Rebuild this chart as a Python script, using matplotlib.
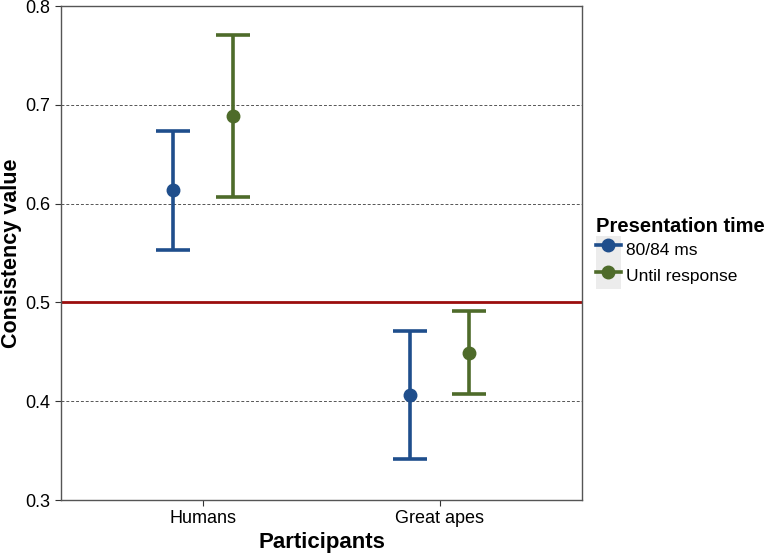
import numpy as np
import matplotlib.pyplot as plt
from matplotlib.lines import Line2D
from matplotlib.patches import Patch
from matplotlib.legend_handler import HandlerTuple

plt.rcParams['font.family'] = ['Liberation Sans', 'DejaVu Sans']

groups = ['Humans', 'Great apes']
conditions = ['80/84 ms', 'Until response']
colors = ['#1f4e8c', '#4e6b2a']
means = {'80/84 ms': [0.614, 0.406], 'Until response': [0.689, 0.449]}
lower = {'80/84 ms': [0.553, 0.342], 'Until response': [0.607, 0.407]}
upper = {'80/84 ms': [0.674, 0.471], 'Until response': [0.771, 0.491]}

fig = plt.figure(figsize=(7.68, 5.53), dpi=100)
ax = fig.add_axes([0.0794, 0.0958, 0.6784, 0.8932])

x = np.arange(1, len(groups) + 1)
offsets = [-0.125, 0.125]
for cond, col, off in zip(conditions, colors, offsets):
    m = np.array(means[cond])
    lo = m - np.array(lower[cond])
    hi = np.array(upper[cond]) - m
    ax.errorbar(x + off, m, yerr=[lo, hi], fmt='o', color=col, ms=9,
                elinewidth=2.6, capsize=12, capthick=2.6, zorder=3)

for y in [0.4, 0.6, 0.7]:
    ax.axhline(y, color='#555555', ls=(0, (3, 2)), lw=0.7, zorder=1)
ax.axhline(0.5, color='#9b0d0d', lw=2, zorder=2)

ax.set_xlim(0.4, 2.6)
ax.set_ylim(0.3, 0.8)
ax.set_xticks(x)
ax.set_xticklabels(groups, fontsize=13)
ax.set_yticks([0.3, 0.4, 0.5, 0.6, 0.7, 0.8])
ax.set_yticklabels(['0.3', '0.4', '0.5', '0.6', '0.7', '0.8'], fontsize=13)
ax.tick_params(colors='#333333', labelcolor='black', length=4)
for s in ax.spines.values():
    s.set_color('#555555')
    s.set_linewidth(1)

ax.set_xlabel('Participants', fontsize=16, fontweight='bold', labelpad=3)
ax.set_ylabel('Consistency value', fontsize=15.5, fontweight='bold')
ax.yaxis.set_label_coords(-0.074, 0.5)

handles = [(Patch(facecolor='#ececec', edgecolor='none'),
            Line2D([], [], color=c, marker='o', lw=2.6, ms=9)) for c in colors]
leg = ax.legend(handles, conditions, title='Presentation time', loc='center left',
                bbox_to_anchor=(1.01, 0.5), frameon=False, fontsize=12.5,
                title_fontproperties={'weight': 'bold', 'size': 14.5},
                handler_map={tuple: HandlerTuple(ndivide=1, pad=0)},
                handlelength=1.45, handleheight=2.0, labelspacing=0.0,
                handletextpad=0.3, borderaxespad=0.3, borderpad=0.2)
leg._legend_box.align = 'left'

fig.savefig('out.png', dpi=100)
